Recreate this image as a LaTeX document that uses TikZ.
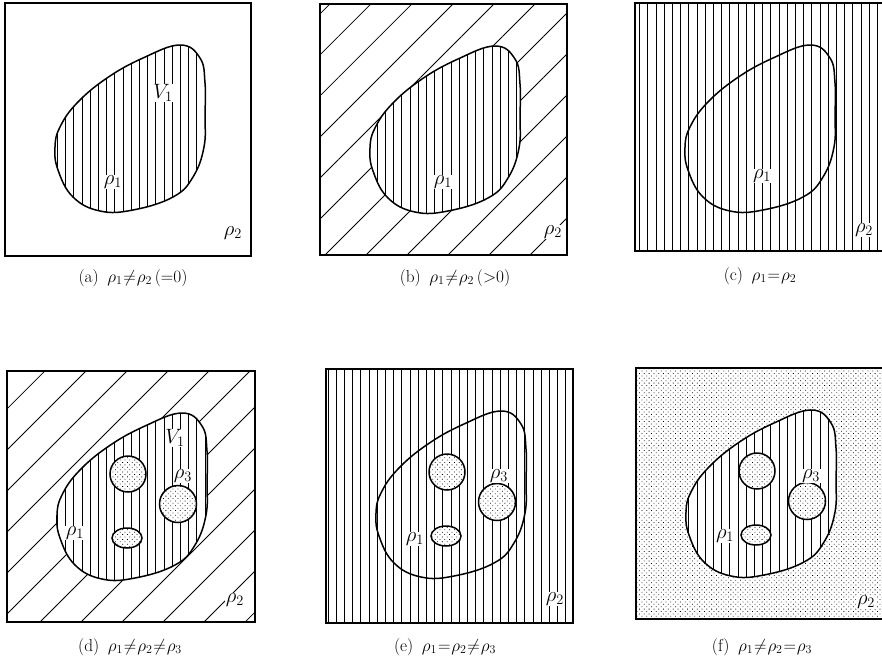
\documentclass[tikz,border=0pt]{standalone}
\usetikzlibrary{patterns.meta}

\thickmuskip=1mu plus 1mu

\tikzset{
    boxline/.style={line width=1.5pt},
    rimline/.style={line width=1.5pt},
    vhatch/.style={pattern={Lines[angle=90, distance=8.2pt, line width=0.8pt]}},
    dhatch/.style={pattern={Lines[angle=45, distance=29pt, line width=0.8pt]}},
    dotfill/.style={pattern={Dots[distance=3.4pt, angle=45, radius=0.55pt]}},
    lbl/.style={fill=white, inner sep=0.8pt, font=\fontsize{20.74}{24}\selectfont},
    captxt/.style={inner sep=1pt, font=\fontsize{17.28}{21}\selectfont}
}

% region V1, in the coordinates of its panel
\newcommand{\blob}[1]{\path[#1] plot[smooth cycle, tension=0.7] coordinates {
    (175,42) (195,55) (200,80) (200,112) (199,144) (188,174) (168,194)
    (128,207) (95,208) (68,194) (53,167) (50,144) (55,124) (72,100)
    (102,75) (138,55)};}
% the three inclusions of density rho_3
\newcommand{\holes}[1]{\path[#1] (121,103) circle[radius=18]
    (171,133) circle[radius=18.5] (120,167) ellipse[x radius=15, y radius=10];}

\begin{document}
\begin{tikzpicture}[x=1pt, y=-1pt]
    \useasboundingbox (0,0) rectangle (882,662);

    % (a)
    \begin{scope}[shift={(5,3)}]
        \draw[boxline] (0,0) rectangle (246,253);
        \blob{rimline, draw, preaction={fill=white}, vhatch}
        \node[lbl] (vOneA) at (158,90) {$V_1$};
        \node[lbl] (rOneA) at (108,179) {$\rho_1$};
        \node[lbl] (rTwoA) at (228,230) {$\rho_2$};
    \end{scope}
    \node[captxt] (capA) at (133,278) {(a)\enspace$\rho_1\neq\rho_2\,(\mathord{=}0)$};

    % (b)
    \begin{scope}[shift={(320,4)}]
        \path[dhatch] (0,0) rectangle (247,251);
        \draw[boxline] (0,0) rectangle (247,251);
        \blob{rimline, draw, preaction={fill=white}, vhatch}
        \node[lbl] (rOneB) at (123,178) {$\rho_1$};
        \node[lbl] (rTwoB) at (233,228) {$\rho_2$};
    \end{scope}
    \node[captxt] (capB) at (455,278) {(b)\enspace$\rho_1\neq\rho_2\,(\mathord{>}0)$};

    % (c)
    \begin{scope}[shift={(635,3)}]
        \path[vhatch] (0,0) rectangle (250,248);
        \draw[boxline] (0,0) rectangle (250,248);
        \blob{rimline, draw}
        \node[lbl] (rOneC) at (127,173) {$\rho_1$};
        \node[lbl] (rTwoC) at (229,227) {$\rho_2$};
    \end{scope}
    \node[captxt] (capC) at (760,276) {(c)\enspace$\rho_1=\rho_2$};

    % (d)
    \begin{scope}[shift={(7,371)}]
        \path[dhatch] (0,0) rectangle (248,251);
        \draw[boxline] (0,0) rectangle (248,251);
        \blob{rimline, draw, preaction={fill=white}, vhatch}
        \holes{rimline, draw, preaction={fill=white}, dotfill}
        \node[lbl] (vOneD) at (168,67) {$V_1$};
        \node[lbl] (rThreeD) at (176,105) {$\rho_3$};
        \node[lbl] (rOneD) at (68,162) {$\rho_1$};
        \node[lbl] (rTwoD) at (228,229) {$\rho_2$};
    \end{scope}
    \node[captxt] (capD) at (130,647) {(d)\enspace$\rho_1\neq\rho_2\neq\rho_3$};

    % (e)
    \begin{scope}[shift={(326,369)}]
        \path[vhatch] (0,0) rectangle (247,254);
        \draw[boxline] (0,0) rectangle (247,254);
        \blob{rimline, draw}
        \holes{rimline, draw, preaction={fill=white}, dotfill}
        \node[lbl] (rThreeE) at (173,107) {$\rho_3$};
        \node[lbl] (rOneE) at (89,170) {$\rho_1$};
        \node[lbl] (rTwoE) at (229,230) {$\rho_2$};
    \end{scope}
    \node[captxt] (capE) at (445,647) {(e)\enspace$\rho_1=\rho_2\neq\rho_3$};

    % (f)
    \begin{scope}[shift={(636,368)}]
        \path[dotfill] (0,0) rectangle (250,251);
        \draw[boxline] (0,0) rectangle (250,251);
        \blob{rimline, draw, preaction={fill=white}, vhatch}
        \holes{rimline, draw, preaction={fill=white}, dotfill}
        \node[lbl] (rThreeF) at (175,108) {$\rho_3$};
        \node[lbl] (rOneF) at (89,168) {$\rho_1$};
        \node[lbl] (rTwoF) at (230,234) {$\rho_2$};
    \end{scope}
    \node[captxt] (capF) at (762,647) {(f)\enspace$\rho_1\neq\rho_2=\rho_3$};
\end{tikzpicture}
\end{document}
